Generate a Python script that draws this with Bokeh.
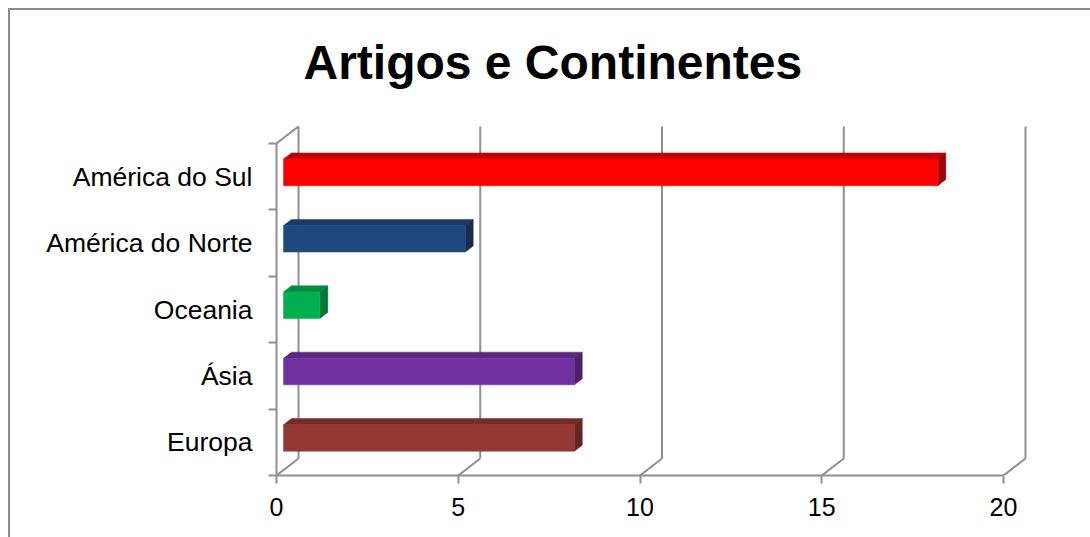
from bokeh.plotting import figure
from bokeh.models import Range1d, FixedTicker, Title
from bokeh.embed import file_html
from bokeh.resources import INLINE

# ---- data ----
categories = ["Europa", "Ásia", "Oceania", "América do Norte", "América do Sul"]
values = [8, 8, 1, 5, 18]
front_colors = ["#953735", "#7030A0", "#00B050", "#1F497D", "#FF0000"]
top_colors = ["#772C2A", "#5A2782", "#008C40", "#1A3B63", "#C00000"]
side_colors = ["#632523", "#4A1F6B", "#007535", "#162F50", "#A00000"]
x_ticks = [0, 5, 10, 15, 20]
title_text = "Artigos e Continentes"

# ---- geometry (pixels per data unit) ----
W, H = 1090, 537
LEFT, RIGHT, TOP, BOTTOM = 276, 1035, 120, 475
PX_X = 36.35
PX_Y = 66.4
x_end = (RIGHT - LEFT) / PX_X
y_end = (BOTTOM - TOP) / PX_Y
DX = 22 / PX_X   # 3-D depth offset in x units
DY = 17 / PX_Y   # 3-D depth offset in y units
n = len(categories)
GRAY = "#8f8f8f"
FONT = "Liberation Sans"

p = figure(width=W, height=H, x_range=Range1d(0, x_end), y_range=Range1d(0, y_end),
           output_backend="svg", toolbar_location=None,
           min_border_left=LEFT, min_border_right=W - RIGHT,
           min_border_top=TOP, min_border_bottom=H - BOTTOM)
p.xgrid.visible = False
p.ygrid.visible = False
p.outline_line_color = None
p.background_fill_color = "white"
p.border_fill_color = None
p.styles = {"background": "linear-gradient(#8c8c8c, #8c8c8c) 8px 8px / 1082px 2px no-repeat, "
                          "linear-gradient(#8c8c8c, #8c8c8c) 8px 8px / 2px 529px no-repeat, #ffffff"}

# x axis
xa = p.xaxis[0]
xa.ticker = FixedTicker(ticks=x_ticks, minor_ticks=[])
xa.bounds = (x_ticks[0], x_ticks[-1])
xa.axis_line_color = GRAY
xa.axis_line_width = 2
xa.major_tick_line_color = GRAY
xa.major_tick_line_width = 2
xa.major_tick_in = 0
xa.major_tick_out = 8
xa.minor_tick_line_color = None
xa.major_label_standoff = 14
xa.major_label_text_font = FONT
xa.major_label_text_font_size = "25px"
xa.major_label_text_color = "black"

# y axis
ya = p.yaxis[0]
centers = [i + 0.5 for i in range(n)]
ya.ticker = FixedTicker(ticks=centers, minor_ticks=list(range(n + 1)))
ya.major_label_overrides = {c: lab for c, lab in zip(centers, categories)}
ya.bounds = (0, n)
ya.axis_line_color = GRAY
ya.axis_line_width = 2
ya.major_tick_line_color = None
ya.major_tick_in = 0
ya.major_tick_out = 0
ya.minor_tick_line_color = GRAY
ya.minor_tick_line_width = 2
ya.minor_tick_in = 0
ya.minor_tick_out = 8
ya.major_label_standoff = 16
ya.major_label_text_font = FONT
ya.major_label_text_font_size = "26.5px"
ya.major_label_text_color = "black"

# back wall gridlines and floor diagonals
p.segment(x0=[t + DX for t in x_ticks], y0=[DY] * len(x_ticks),
          x1=[t + DX for t in x_ticks], y1=[n + DY] * len(x_ticks),
          line_color=GRAY, line_width=2)
p.segment(x0=x_ticks, y0=[0] * len(x_ticks),
          x1=[t + DX for t in x_ticks], y1=[DY] * len(x_ticks),
          line_color=GRAY, line_width=2)
p.segment(x0=[0], y0=[n], x1=[DX], y1=[n + DY], line_color=GRAY, line_width=2)

# 3-D bars
f0 = 0.32
dd_x = 0.36 * DX
dd_y = 0.36 * DY
lefts = [f0 * DX] * n
rights = [v + f0 * DX for v in values]
bottoms = [c - 0.135 for c in centers]
tops = [c + 0.265 for c in centers]

top_xs = [[l, r, r + dd_x, l + dd_x] for l, r in zip(lefts, rights)]
top_ys = [[t, t, t + dd_y, t + dd_y] for t in tops]
side_xs = [[r, r, r + dd_x, r + dd_x] for r in rights]
side_ys = [[b, t, t + dd_y, b + dd_y] for b, t in zip(bottoms, tops)]

p.patches(xs=top_xs, ys=top_ys, fill_color=top_colors, line_color=top_colors, line_width=0.5)
p.patches(xs=side_xs, ys=side_ys, fill_color=side_colors, line_color=side_colors, line_width=0.5)
p.quad(left=lefts, right=rights, bottom=bottoms, top=tops,
       fill_color=front_colors, line_color=front_colors, line_width=0.5)

# title
p.title = Title(text=title_text, align="left", offset=303 - LEFT, standoff=60,
                vertical_align="top",
                text_font=FONT, text_font_size="48px", text_font_style="bold",
                text_color="black")

open("out.html", "w").write(file_html(p, INLINE))
